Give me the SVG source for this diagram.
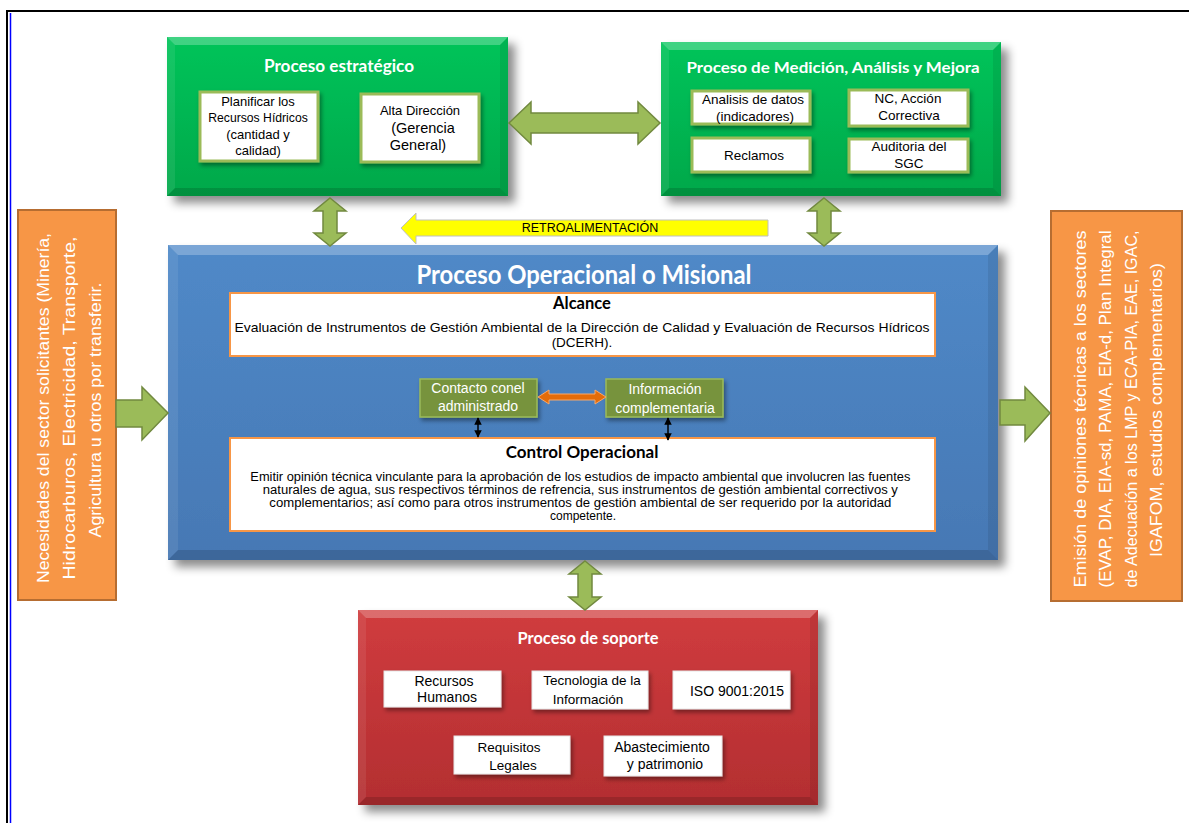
<svg xmlns="http://www.w3.org/2000/svg" width="1189" height="823" viewBox="0 0 1189 823">
<style>
.ttl{font-family:Lato,"Open Sans",sans-serif;font-weight:bold;fill:#ffffff;text-anchor:middle}
.t{font-family:"Liberation Sans",Arial,sans-serif;text-anchor:middle;fill:#000}
.tw{font-family:"Liberation Sans",Arial,sans-serif;text-anchor:middle;fill:#ffffff}
.wb{fill:#fff;stroke:#9BBB59;stroke-width:3}
.ga{fill:#9BBB59;stroke:#71893F;stroke-width:1.5}
.hl{fill:#fff;opacity:.25}
.hl2{fill:#fff;opacity:.08}
.dk{fill:#000;opacity:.14}
.dk2{fill:#000;opacity:.08}
.ob{fill:#F79646;stroke:#B66D31;stroke-width:2}
.bk{font-family:Lato,"Open Sans",sans-serif;font-weight:bold;fill:#000;text-anchor:middle}
</style>
<defs>
<filter id="sh" x="-10%" y="-10%" width="130%" height="130%"><feDropShadow dx="7" dy="7" stdDeviation="5" flood-color="#000" flood-opacity="0.45"/></filter>
<filter id="sh2" x="-10%" y="-10%" width="130%" height="140%"><feDropShadow dx="2" dy="3" stdDeviation="2" flood-color="#000" flood-opacity="0.4"/></filter>
<linearGradient id="gG" x1="0" y1="0" x2="0" y2="1"><stop offset="0" stop-color="#00C45A"/><stop offset="1" stop-color="#00A84A"/></linearGradient>
<linearGradient id="gB" x1="0" y1="0" x2="0" y2="1"><stop offset="0" stop-color="#5089C8"/><stop offset="1" stop-color="#4678B4"/></linearGradient>
<linearGradient id="gR" x1="0" y1="0" x2="0" y2="1"><stop offset="0" stop-color="#D03C3E"/><stop offset="1" stop-color="#B32E31"/></linearGradient>
<marker id="ab" viewBox="0 0 10 10" refX="9" refY="5" markerWidth="5" markerHeight="5" orient="auto-start-reverse"><path d="M0,0 L10,5 L0,10 z" fill="#000"/></marker>
</defs>
<rect width="1189" height="823" fill="#fff"/>
<g id="page">
<line x1="6" y1="11" x2="1189" y2="11" stroke="#000" stroke-width="2"/>
<line x1="7" y1="10" x2="7" y2="823" stroke="#000" stroke-width="2"/>
<line x1="10.5" y1="13" x2="10.5" y2="823" stroke="#0000FF" stroke-width="1.5"/>
</g>

<g id="estrategico">
<rect x="167" y="37" width="341" height="159" fill="url(#gG)" filter="url(#sh)"/>
<polygon class="hl" points="167,37 508,37 500,45 175,45"/>
<polygon class="dk" points="167,196 508,196 500,188 175,188"/>
<polygon class="hl2" points="167,37 175,45 175,188 167,196"/>
<polygon class="dk2" points="508,37 500,45 500,188 508,196"/>
<text class="ttl" x="339" y="72" font-size="16.5" textLength="150" lengthAdjust="spacingAndGlyphs">Proceso estratégico</text>
<rect class="wb" x="200" y="92" width="118" height="69" filter="url(#sh2)"/>
<text class="t" font-size="13"><tspan x="258" y="106">Planificar los</tspan><tspan x="258" y="122" font-size="12.2">Recursos Hídricos</tspan><tspan x="258" y="139">(cantidad y</tspan><tspan x="258" y="155">calidad)</tspan></text>
<rect class="wb" x="361" y="94" width="118" height="68" filter="url(#sh2)"/>
<text class="t" font-size="13"><tspan x="420" y="115">Alta Dirección</tspan></text>
<text class="t" font-size="14.5"><tspan x="423" y="133">(Gerencia</tspan><tspan x="418" y="150">General)</tspan></text>
</g>

<g id="medicion">
<rect x="661" y="42" width="340" height="154" fill="url(#gG)" filter="url(#sh)"/>
<polygon class="hl" points="661,42 1001,42 993,50 669,50"/>
<polygon class="dk" points="661,196 1001,196 993,188 669,188"/>
<polygon class="hl2" points="661,42 669,50 669,188 661,196"/>
<polygon class="dk2" points="1001,42 993,50 993,188 1001,196"/>
<text class="ttl" x="833" y="73" font-size="16" textLength="293" lengthAdjust="spacingAndGlyphs">Proceso de Medición, Análisis y Mejora</text>
<rect class="wb" x="692" y="91" width="118" height="33" filter="url(#sh2)"/>
<text class="t" font-size="13.5"><tspan x="753" y="104">Analisis de datos</tspan><tspan x="755" y="121">(indicadores)</tspan></text>
<rect class="wb" x="849" y="90" width="119" height="36" filter="url(#sh2)"/>
<text class="t" font-size="13.5"><tspan x="908" y="103">NC, Acción</tspan><tspan x="909" y="120">Correctiva</tspan></text>
<rect class="wb" x="692" y="138" width="118" height="34" filter="url(#sh2)"/>
<text class="t" font-size="13.5" x="754" y="160">Reclamos</text>
<rect class="wb" x="849" y="139" width="119" height="33" filter="url(#sh2)"/>
<text class="t" font-size="13.5"><tspan x="909" y="151">Auditoria del</tspan><tspan x="909" y="168">SGC</tspan></text>
</g>

<g id="necesidades">
<rect class="ob" x="18" y="210" width="98" height="390"/>
<g class="tw" font-size="16.5">
<text transform="translate(49,408) rotate(-90)" textLength="350" lengthAdjust="spacingAndGlyphs">Necesidades del sector solicitantes (Minería,</text>
<text transform="translate(75,408) rotate(-90)" textLength="343" lengthAdjust="spacingAndGlyphs">Hidrocarburos, Electricidad, Transporte,</text>
<text transform="translate(101,410) rotate(-90)" textLength="255" lengthAdjust="spacingAndGlyphs">Agricultura u otros por transferir.</text>
</g>
</g>

<g id="emision">
<rect class="ob" x="1051" y="211" width="131" height="390"/>
<g class="tw" font-size="16.5">
<text transform="translate(1086,409) rotate(-90)" textLength="357" lengthAdjust="spacingAndGlyphs">Emisión de opiniones técnicas a los sectores</text>
<text transform="translate(1111,409) rotate(-90)" textLength="357" lengthAdjust="spacingAndGlyphs">(EVAP, DIA, EIA-sd, PAMA, EIA-d, Plan Integral</text>
<text transform="translate(1137,409) rotate(-90)" textLength="357" lengthAdjust="spacingAndGlyphs">de Adecuación a los LMP y ECA-PIA, EAE, IGAC,</text>
<text transform="translate(1162,410) rotate(-90)" textLength="294" lengthAdjust="spacingAndGlyphs">IGAFOM, estudios complementarios)</text>
</g>
</g>

<g id="operacional">
<rect x="168" y="245" width="830" height="315" fill="url(#gB)" filter="url(#sh)"/>
<polygon class="hl" points="168,245 998,245 988,255 178,255"/>
<polygon class="dk" points="168,560 998,560 988,550 178,550"/>
<polygon class="hl2" points="168,245 178,255 178,550 168,560"/>
<polygon class="dk2" points="998,245 988,255 988,550 998,560"/>
<text class="ttl" x="584" y="284" font-size="26" textLength="335" lengthAdjust="spacingAndGlyphs">Proceso Operacional o Misional</text>
</g>

<g id="alcance">
<rect x="230" y="293" width="705" height="63" fill="#fff" stroke="#F79646" stroke-width="2"/>
<text class="bk" x="582" y="309" font-size="16.5">Alcance</text>
<text class="t" font-size="13.5"><tspan x="582" y="332" textLength="695" lengthAdjust="spacingAndGlyphs">Evaluación de Instrumentos de Gestión Ambiental de la Dirección de Calidad y Evaluación de Recursos Hídricos</tspan><tspan x="582" y="347">(DCERH).</tspan></text>
</g>

<g id="contacto">
<rect x="420" y="379" width="117" height="38" fill="#77933C" stroke="#9BBB59" stroke-width="1.5" filter="url(#sh2)"/>
<text class="tw" font-size="14"><tspan x="478" y="393">Contacto conel</tspan><tspan x="478" y="411">administrado</tspan></text>
</g>
<g id="informacion">
<rect x="606" y="379" width="117" height="38" fill="#77933C" stroke="#9BBB59" stroke-width="1.5" filter="url(#sh2)"/>
<text class="tw" font-size="14"><tspan x="665" y="394">Información</tspan><tspan x="665" y="413">complementaria</tspan></text>
</g>

<g id="control">
<rect x="230" y="438" width="705" height="93" fill="#fff" stroke="#F79646" stroke-width="2"/>
<text class="bk" x="582" y="458" font-size="17">Control Operacional</text>
<text class="t" font-size="12">
<tspan x="582" y="481" textLength="660" lengthAdjust="spacingAndGlyphs">Emitir opinión técnica vinculante para la aprobación de los estudios de impacto ambiental que involucren las fuentes</tspan>
<tspan x="582" y="494" textLength="635" lengthAdjust="spacingAndGlyphs">naturales de agua, sus respectivos términos de refrencia, sus instrumentos de gestión ambiental correctivos y</tspan>
<tspan x="582" y="507" textLength="622" lengthAdjust="spacingAndGlyphs">complementarios; así como para otros instrumentos de gestión ambiental de ser requerido por la autoridad</tspan>
<tspan x="583" y="520">competente.</tspan>
</text>
</g>

<g id="soporte">
<rect x="358" y="610" width="460" height="195" fill="url(#gR)" filter="url(#sh)"/>
<polygon class="hl" points="358,610 818,610 810,618 366,618"/>
<polygon class="dk" points="358,805 818,805 810,797 366,797"/>
<polygon class="hl2" points="358,610 366,618 366,797 358,805"/>
<polygon class="dk2" points="818,610 810,618 810,797 818,805"/>
<text class="ttl" x="588" y="644" font-size="17" textLength="141" lengthAdjust="spacingAndGlyphs">Proceso de soporte</text>
<rect x="384" y="671" width="117" height="36" fill="#fff" stroke="#E6E6E6" stroke-width="1" filter="url(#sh2)"/>
<text class="t" font-size="14"><tspan x="444" y="686">Recursos</tspan><tspan x="447" y="702">Humanos</tspan></text>
<rect x="532" y="671" width="116" height="38" fill="#fff" stroke="#E6E6E6" stroke-width="1" filter="url(#sh2)"/>
<text class="t" font-size="13.5"><tspan x="592" y="685">Tecnologia de la</tspan><tspan x="588" y="704">Información</tspan></text>
<rect x="673" y="671" width="117" height="38" fill="#fff" stroke="#E6E6E6" stroke-width="1" filter="url(#sh2)"/>
<text class="t" font-size="14" x="737" y="696">ISO 9001:2015</text>
<rect x="454" y="736" width="116" height="38" fill="#fff" stroke="#E6E6E6" stroke-width="1" filter="url(#sh2)"/>
<text class="t" font-size="13.5"><tspan x="509" y="752">Requisitos</tspan><tspan x="513" y="770">Legales</tspan></text>
<rect x="604" y="736" width="118" height="40" fill="#fff" stroke="#E6E6E6" stroke-width="1" filter="url(#sh2)"/>
<text class="t" font-size="14"><tspan x="662" y="752">Abastecimiento</tspan><tspan x="665" y="769">y patrimonio</tspan></text>
</g>

<g id="connectors">
<polygon class="ga" points="509,123 531,102 531,113 638,113 638,102 660,123 638,144 638,133 531,133 531,144"/>
<polygon class="ga" points="330,198 346,211 337,211 337,233 346,233 330,246 314,233 323,233 323,211 314,211"/>
<polygon class="ga" points="824,198 840,211 831,211 831,233 840,233 824,246 808,233 817,233 817,211 808,211"/>
<polygon class="ga" points="585,561 601,574 592,574 592,597 601,597 585,610 569,597 578,597 578,574 569,574"/>
<polygon class="ga" points="116,400 142,400 142,387 168,413 142,440 142,427 116,427"/>
<polygon class="ga" points="1000,400 1025,400 1025,387 1050,413 1025,441 1025,425 1000,425"/>
<polygon points="401,228 416,213 416,220 768,220 768,236 416,236 416,244" fill="#FFFF00" stroke="#BFBFBF" stroke-width="1"/>
<text class="t" font-size="12.5" x="590" y="232">RETROALIMENTACIÓN</text>
<polygon points="538,397 549,390 549,394 595,394 595,390 606,397 595,404 595,400 549,400 549,404" fill="#E46C0A" stroke="#F9A868" stroke-width="1"/>
<line x1="478" y1="418" x2="478" y2="437" stroke="#000" stroke-width="1.5" marker-start="url(#ab)" marker-end="url(#ab)"/>
<line x1="668" y1="418" x2="668" y2="440" stroke="#000" stroke-width="1.5" marker-start="url(#ab)" marker-end="url(#ab)"/>
</g>
</svg>
